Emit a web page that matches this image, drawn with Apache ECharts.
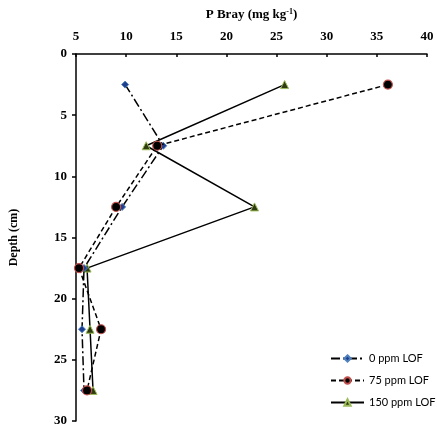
<!DOCTYPE html>
<html><head><meta charset="utf-8">
<script src="https://cdn.jsdelivr.net/npm/echarts@6/dist/echarts.min.js"></script>
<style>html,body{margin:0;padding:0;background:#fff}#c{width:437px;height:430px}</style>
</head><body><div id="c"></div>
<script>
const depths = [2.5, 7.5, 12.5, 17.5, 22.5, 27.5];
const lof0 = [9.9, 13.7, 9.6, 5.8, 5.6, 5.8];
const lof75 = [36.1, 13.1, 9.0, 5.3, 7.5, 6.1];
const lof150 = [25.8, 12.0, 22.8, 6.1, 6.4, 6.7];
const seriesNames = ['0 ppm LOF', '75 ppm LOF', '150 ppm LOF'];

const pair = (xs) => xs.map((v, i) => [v, depths[i]]);
const serif = '"Liberation Serif", "DejaVu Serif", serif';

const chart = echarts.init(document.getElementById('c'), null, {renderer: 'canvas'});
chart.setOption({
  animation: false,
  backgroundColor: '#fff',
  grid: {left: 74, right: 10, top: 54, bottom: 9, containLabel: false},
  xAxis: {
    type: 'value', position: 'top', min: 5, max: 40, interval: 5,
    name: '{t|P Bray (mg kg}{s|-1}{t|)}',
    nameLocation: 'middle', nameGap: 32,
    nameTextStyle: {rich: {
      t: {fontFamily: serif, fontWeight: 'bold', fontSize: 13, color: '#000'},
      s: {fontFamily: serif, fontWeight: 'bold', fontSize: 8, color: '#000', verticalAlign: 'top', padding: [0,0,6,0]}
    }},
    axisLine: {show: true, lineStyle: {color: '#000', width: 1.5}},
    axisTick: {show: true, inside: true, length: 3, lineStyle: {color: '#000', width: 1.5}},
    axisLabel: {fontFamily: serif, fontWeight: 'bold', fontSize: 13, color: '#000', margin: 11},
    splitLine: {show: false}
  },
  yAxis: {
    type: 'value', inverse: true, min: 0, max: 30, interval: 5,
    name: 'Depth (cm)', nameLocation: 'middle', nameGap: 56, nameRotate: 90,
    nameTextStyle: {fontFamily: serif, fontWeight: 'bold', fontSize: 12, color: '#000'},
    axisLine: {show: true, onZero: false, lineStyle: {color: '#000', width: 1.5}},
    axisTick: {show: true, length: 4, lineStyle: {color: '#000', width: 1.5}},
    axisLabel: {fontFamily: serif, fontWeight: 'bold', fontSize: 13, color: '#000', margin: 9},
    splitLine: {show: false}
  },
  legend: {
    orient: 'vertical', left: 325, top: 348, itemGap: 11, itemWidth: 33, itemHeight: 8,
    textStyle: {fontFamily: 'Lato, "Open Sans", sans-serif', fontSize: 11, color: '#000'},
    data: seriesNames
  },
  series: [
    {
      name: seriesNames[0], type: 'line', data: pair(lof0),
      symbol: 'diamond', symbolSize: 7,
      itemStyle: {color: '#1f3f8f', borderColor: '#4f81bd', borderWidth: 1},
      lineStyle: {color: '#000', width: 1.5, type: [9, 3, 2, 3]},
      z: 3
    },
    {
      name: seriesNames[1], type: 'line', data: pair(lof75),
      symbol: 'circle', symbolSize: 9,
      itemStyle: {color: '#000', borderColor: '#c0504d', borderWidth: 1.2},
      lineStyle: {color: '#000', width: 1.5, type: [5, 3]},
      z: 4
    },
    {
      name: seriesNames[2], type: 'line', data: pair(lof150),
      symbol: 'triangle', symbolSize: 8,
      itemStyle: {color: '#2e3a10', borderColor: '#9bbb59', borderWidth: 1},
      lineStyle: {color: '#000', width: 1.5, type: 'solid'},
      z: 2
    }
  ]
});
</script></body></html>
